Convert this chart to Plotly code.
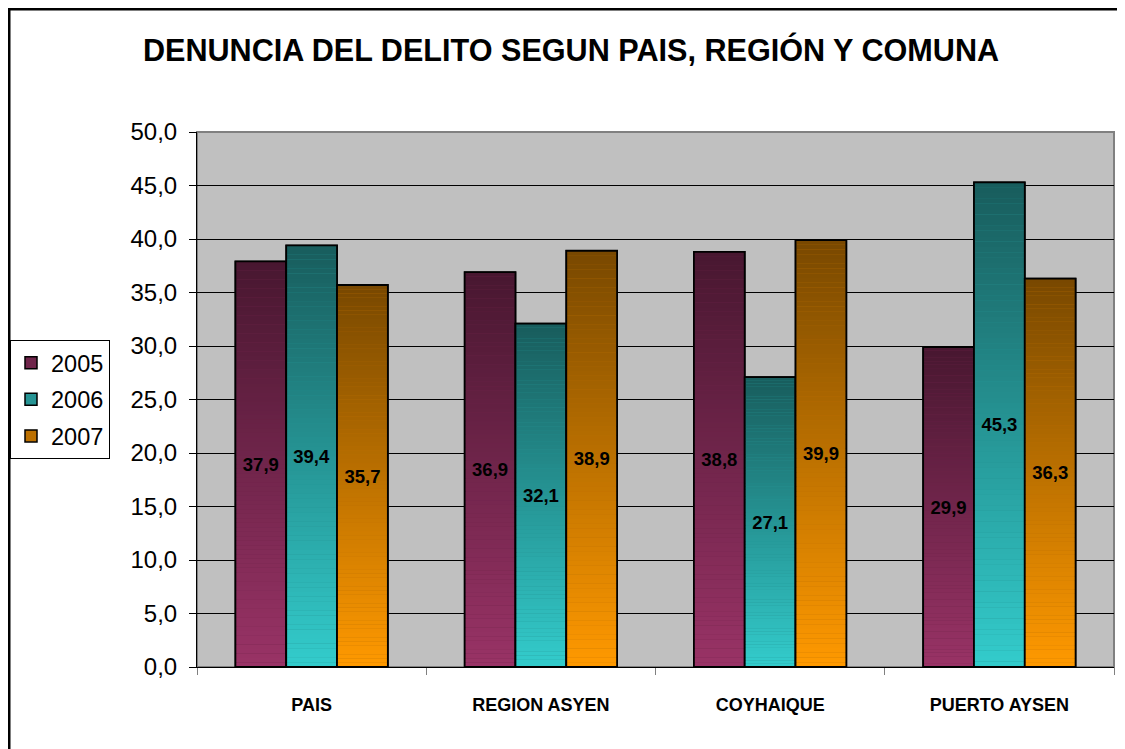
import plotly.graph_objects as go

categories = ["PAIS", "REGION ASYEN", "COYHAIQUE", "PUERTO AYSEN"]
series_names = ["2005", "2006", "2007"]
values_2005 = [37.9, 36.9, 38.8, 29.9]
values_2006 = [39.4, 32.1, 27.1, 45.3]
values_2007 = [35.7, 38.9, 39.9, 36.3]
tick_vals = [0, 5, 10, 15, 20, 25, 30, 35, 40, 45, 50]
tick_text = ["0,0", "5,0", "10,0", "15,0", "20,0", "25,0", "30,0", "35,0", "40,0", "45,0", "50,0"]
title_text = "DENUNCIA DEL DELITO SEGUN PAIS, REGIÓN Y COMUNA"

series_values = [values_2005, values_2006, values_2007]
# (bottom colour, top colour) of each series' vertical gradient
gradients = [((0x99, 0x33, 0x66), (0x48, 0x17, 0x30)),
             ((0x33, 0xCC, 0xCC), (0x18, 0x5C, 0x5C)),
             ((0xFF, 0x99, 0x00), (0x78, 0x48, 0x00))]

OFF = 8  # default page body margin
W, H = 1125 - OFF, 749 - OFF
L, T = 197 - OFF, 132 - OFF
plot_right, plot_bottom = 1114 - OFF, 667 - OFF
R, B = W - plot_right, H - plot_bottom
pw, ph = plot_right - L, plot_bottom - T

SANS = "Liberation Sans, Arial, sans-serif"

def mix(c0, c1, t):
    return "rgb(%d,%d,%d)" % tuple(round(a + (b - a) * t) for a, b in zip(c0, c1))

def fmt(v):
    return ("%.1f" % v).replace(".", ",")

fig = go.Figure()
N = 90
for s, (name, vals) in enumerate(zip(series_names, series_values)):
    c0, c1 = gradients[s]
    fig.add_trace(go.Bar(
        x=categories, y=vals, name=name, offsetgroup=str(s),
        marker=dict(color=mix(c0, c1, 0.5), line=dict(color="black", width=1.5)),
        hoverinfo="skip", legendgroup=name, showlegend=True))
    for k in range(N):
        fig.add_trace(go.Bar(
            x=categories, y=[v / N * 1.02 for v in vals],
            base=[v * k / N for v in vals], offsetgroup=str(s),
            marker=dict(color=mix(c0, c1, (k + 0.5) / N), line=dict(width=0)),
            hoverinfo="skip", showlegend=False))
    fig.add_trace(go.Bar(
        x=categories, y=vals, offsetgroup=str(s),
        marker=dict(color="rgba(0,0,0,0)", line=dict(color="black", width=1.8)),
        text=[fmt(v) for v in vals], textposition="inside", insidetextanchor="middle",
        textangle=0, constraintext="none",
        textfont=dict(family=SANS, size=18.5, color="black", weight="bold"),
        hoverinfo="skip", showlegend=False))

shapes = [
    dict(type="rect", xref="paper", yref="paper", x0=0, x1=1, y0=0, y1=1,
         line=dict(color="#808080", width=2), layer="below"),
    dict(type="rect", xref="paper", yref="paper",
         x0=(1.25 - L) / pw, x1=(W + 30 - L) / pw,
         y0=-(H + 30 - plot_bottom) / ph, y1=(plot_bottom - 1.25) / ph,
         line=dict(color="black", width=2.5)),
]

fig.update_layout(
    width=W, height=H,
    margin=dict(l=L, r=R, t=T, b=B, pad=0, autoexpand=False),
    paper_bgcolor="white", plot_bgcolor="#C0C0C0",
    barmode="group", bargap=0.335, bargroupgap=0,
    font=dict(family=SANS, color="black"),
    title=dict(text="<b>" + title_text + "</b>", xref="container", yref="container",
               x=(571 - OFF) / W, y=1 - (50 - OFF) / H, xanchor="center", yanchor="middle",
               font=dict(size=30.6, color="black")),
    legend=dict(x=(10 - OFF - L) / pw, y=(plot_bottom - (340 - OFF)) / ph,
                xanchor="left", yanchor="top",
                bgcolor="white", bordercolor="black", borderwidth=1,
                font=dict(size=23.5), traceorder="grouped", tracegroupgap=3,
                itemclick=False),
    shapes=shapes,
    showlegend=True,
)
fig.update_xaxes(
    type="category", range=[-0.5, 3.5], showgrid=False,
    showline=True, linecolor="black", linewidth=1,
    ticks="outside", tickson="boundaries", ticklen=7, tickcolor="#808080",
    tickfont=dict(size=18, family=SANS, weight="bold"),
    ticklabelstandoff=21, fixedrange=True)
fig.update_yaxes(
    range=[0, 50], tickvals=tick_vals, ticktext=tick_text,
    showgrid=True, gridcolor="black", gridwidth=1,
    showline=True, linecolor="black", linewidth=1,
    ticks="outside", ticklen=7, tickcolor="black",
    tickfont=dict(size=24), ticklabelstandoff=7, zeroline=False, fixedrange=True)

fig.write_html("out.html")
